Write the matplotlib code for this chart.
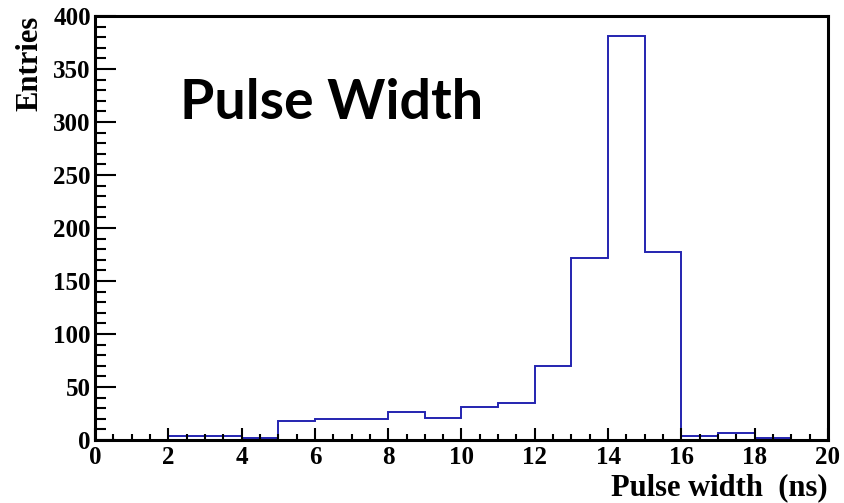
import numpy as np
import matplotlib.pyplot as plt
from matplotlib.ticker import MultipleLocator

# bin edges (ns) and entries per bin
bin_edges = [2, 3, 4, 5, 6, 7, 8, 9, 10, 11, 12, 13, 14, 15, 16, 17, 18, 19]
entries = [4, 4, 2, 18, 20, 20, 26, 21, 31, 35, 70, 172, 381, 177, 4, 7, 2]

title_text = "Pulse Width"
x_label = "Pulse width  (ns)"
y_label = "Entries"

fig = plt.figure(figsize=(8.44, 5.03), dpi=100)
ax = fig.add_axes([0.1126, 0.1252, 0.9810 - 0.1126, 0.968 - 0.1252])

# histogram outline, ROOT style
ax.stairs(entries, bin_edges, color="#2424b0", linewidth=1.4)

ax.set_xlim(0, 20)
ax.set_ylim(0, 400)
ax.xaxis.set_major_locator(MultipleLocator(2))
ax.xaxis.set_minor_locator(MultipleLocator(0.5))
ax.yaxis.set_major_locator(MultipleLocator(50))
ax.yaxis.set_minor_locator(MultipleLocator(10))

serif = {"family": "Liberation Serif", "weight": "bold"}
ax.tick_params(which="both", direction="in", top=False, right=False, width=1.5,
               labelsize=18)
ax.tick_params(axis="y", which="major", length=15, pad=3)
ax.tick_params(axis="y", which="minor", length=8)
ax.tick_params(axis="x", which="major", length=9, pad=4)
ax.tick_params(axis="x", which="minor", length=4)
for lab in ax.get_xticklabels() + ax.get_yticklabels():
    lab.set_fontfamily("Liberation Serif")
    lab.set_fontweight("bold")

for sp in ax.spines.values():
    sp.set_linewidth(2.2)

ax.set_xlabel(x_label, fontsize=22, loc="right", labelpad=3, **serif)
ax.set_ylabel(y_label, fontsize=22, loc="top", labelpad=6, **serif)

ax.text(0.116, 0.795, title_text, transform=ax.transAxes, fontsize=40,
        fontfamily="Lato", fontweight="bold", ha="left", va="center")

fig.savefig("out.png", dpi=100)
